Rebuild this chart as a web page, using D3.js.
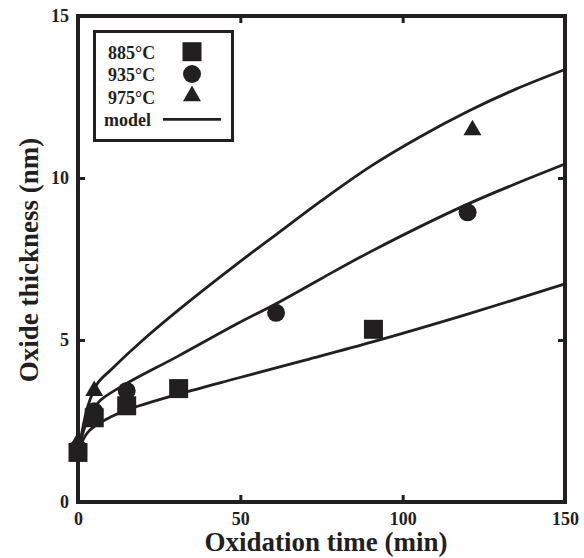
<!DOCTYPE html>
<html>
<head>
<meta charset="utf-8">
<script src="https://cdn.jsdelivr.net/npm/d3@7"></script>
<style>
  body { margin: 0; background: #fff; }
  text { font-family: "Liberation Serif", "Times New Roman", serif; font-weight: bold; fill: #231f20; }
</style>
</head>
<body>
<div id="chart"></div>
<script>
// measured points (min, nm)
var sq885  = [[0, 1.53], [5, 2.6], [15, 2.97], [31, 3.5], [91, 5.33]];
var ci935  = [[0, 1.65], [5, 2.8], [15, 3.43], [61, 5.84], [120, 8.94]];
var tr975  = [[0, 1.85], [5, 3.43], [121.5, 11.48]];

// model curves
var model885 = [[0, 1.5], [1, 1.8], [3, 2.15], [6, 2.4], [10, 2.62], [15, 2.84], [31, 3.33], [49, 3.82], [70, 4.38], [91, 4.95], [119, 5.77], [150, 6.73]];
var model935 = [[0, 1.5], [1, 1.95], [3, 2.55], [5, 2.9], [7, 3.15], [15, 3.66], [31, 4.51], [49, 5.5], [61, 6.12], [75, 6.9], [90, 7.72], [119.5, 9.17], [150, 10.43]];
var model975 = [[0, 1.5], [1, 2.05], [3, 2.95], [6, 3.66], [10, 4.07], [20, 5.0], [31, 5.93], [49, 7.35], [61, 8.25], [75, 9.3], [90, 10.35], [105, 11.25], [120, 12.05], [135, 12.75], [150, 13.35]];

var xTicks = [0, 50, 100, 150];
var yTicks = [0, 5, 10, 15];
var legendLabels = ["885\u00B0C", "935\u00B0C", "975\u00B0C", "model"];

var ink = "#231f20";
var W = 584, H = 558;
var plot = { left: 78, right: 565, top: 16, bottom: 502 };

var svg = d3.select("#chart").append("svg")
  .attr("width", W).attr("height", H);

var x = d3.scaleLinear().domain([0, 150]).range([plot.left, plot.right]);
var y = d3.scaleLinear().domain([0, 15]).range([plot.bottom, plot.top]);

// axes with inward ticks
function styleAxis(g) {
  g.select(".domain").remove();
  g.selectAll(".tick line").attr("stroke", ink).attr("stroke-width", 3);
  g.selectAll(".tick text").style("font-size", "18px").attr("fill", ink);
}

svg.append("g").attr("transform", "translate(0," + plot.bottom + ")")
  .call(d3.axisBottom(x).tickValues(xTicks).tickSize(-7).tickPadding(10))
  .call(styleAxis);
svg.append("g").attr("transform", "translate(" + plot.left + ",0)")
  .call(d3.axisLeft(y).tickValues(yTicks).tickSize(-7).tickPadding(9))
  .call(styleAxis);
svg.append("g").attr("transform", "translate(0," + plot.top + ")")
  .call(d3.axisTop(x).tickValues(xTicks).tickSize(-7).tickFormat(""))
  .call(styleAxis);
svg.append("g").attr("transform", "translate(" + plot.right + ",0)")
  .call(d3.axisRight(y).tickValues(yTicks).tickSize(-7).tickFormat(""))
  .call(styleAxis);

// frame
svg.append("rect")
  .attr("x", plot.left).attr("y", plot.top)
  .attr("width", plot.right - plot.left).attr("height", plot.bottom - plot.top)
  .attr("fill", "none").attr("stroke", ink).attr("stroke-width", 4);

// model lines
var line = d3.line()
  .x(function(d) { return x(d[0]); })
  .y(function(d) { return y(d[1]); })
  .curve(d3.curveCatmullRom.alpha(0.5));

svg.append("g").selectAll("path")
  .data([model885, model935, model975])
  .enter().append("path")
    .attr("d", line)
    .attr("fill", "none")
    .attr("stroke", ink)
    .attr("stroke-width", 2.8);

// markers
var shapes = [
  { data: sq885, sym: d3.symbol().type(d3.symbolSquare).size(361) },
  { data: ci935, sym: d3.symbol().type(d3.symbolCircle).size(254) },
  { data: tr975, sym: d3.symbol().type(d3.symbolTriangle).size(140) }
];

shapes.forEach(function(s) {
  svg.append("g").selectAll("path")
    .data(s.data)
    .enter().append("path")
      .attr("d", s.sym)
      .attr("transform", function(d) { return "translate(" + x(d[0]) + "," + y(d[1]) + ")"; })
      .attr("fill", ink);
});

// axis titles
svg.append("text")
  .attr("x", 326).attr("y", 551)
  .attr("text-anchor", "middle")
  .style("font-size", "27px")
  .text("Oxidation time (min)");

svg.append("text")
  .attr("transform", "translate(38,260) rotate(-90)")
  .attr("text-anchor", "middle")
  .style("font-size", "27px")
  .text("Oxide thickness (nm)");

// legend
var legend = svg.append("g");
legend.append("rect")
  .attr("x", 94.5).attr("y", 31.5)
  .attr("width", 138).attr("height", 109)
  .attr("fill", "#fff").attr("stroke", ink).attr("stroke-width", 3);

var rowY = [58.5, 81, 104, 126];
var rowX = [108, 108, 108, 104];
legend.selectAll("text")
  .data(legendLabels)
  .enter().append("text")
    .attr("x", function(d, i) { return rowX[i]; })
    .attr("y", function(d, i) { return rowY[i]; })
    .style("font-size", "18px")
    .text(function(d) { return d; });

var symY = [51.7, 74, 96];
shapes.forEach(function(s, i) {
  legend.append("path")
    .attr("d", s.sym)
    .attr("transform", "translate(192," + symY[i] + ")")
    .attr("fill", ink);
});
legend.append("line")
  .attr("x1", 163).attr("x2", 221)
  .attr("y1", 119.3).attr("y2", 119.3)
  .attr("stroke", ink).attr("stroke-width", 2.8);
</script>
</body>
</html>
